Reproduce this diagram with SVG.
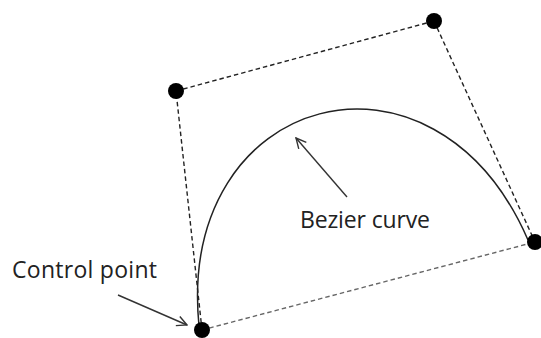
<svg xmlns="http://www.w3.org/2000/svg" width="541" height="338" viewBox="0 0 541 338">
<defs>
<style>
.dash{fill:none;stroke:#222;stroke-width:1.4;stroke-dasharray:4.5 3}
.curve{fill:none;stroke:#222;stroke-width:1.5}
.arr{fill:none;stroke:#333;stroke-width:1.4}
.pt{fill:#000}
.lbl{font-family:"Open Sans","Liberation Sans",sans-serif;font-size:23px;fill:#222}
</style>
<marker id="open" viewBox="0 0 12 12" refX="11" refY="6" markerWidth="12" markerHeight="12" markerUnits="userSpaceOnUse" orient="auto">
<path d="M1,1 L11,6 L1,11" fill="none" stroke="#333" stroke-width="1.4"/>
</marker>
</defs>
<rect width="541" height="338" fill="#fff"/>
<g id="connectors">
<line class="dash" x1="202" y1="330" x2="176" y2="91"/>
<line class="dash" x1="176" y1="91" x2="434" y2="21"/>
<line class="dash" x1="434" y1="21" x2="535" y2="242"/>
<line class="dash" x1="202" y1="330" x2="535" y2="242" style="stroke:#666"/>
<path class="curve" d="M199,326 C176,91 434,24 528,240"/>
<line class="arr" x1="347" y1="197" x2="296" y2="138" marker-end="url(#open)"/>
<line class="arr" x1="118" y1="295" x2="187" y2="325" marker-end="url(#open)"/>
</g>
<g id="p0"><circle class="pt" cx="202" cy="330" r="8"/></g>
<g id="p1"><circle class="pt" cx="176" cy="91" r="8"/></g>
<g id="p2"><circle class="pt" cx="434" cy="21" r="8"/></g>
<g id="p3"><circle class="pt" cx="535" cy="242" r="8"/></g>
<g id="label-bezier"><text class="lbl" x="300" y="228" textLength="130">Bezier curve</text></g>
<g id="label-control"><text class="lbl" x="12" y="278" textLength="145">Control point</text></g>
</svg>
